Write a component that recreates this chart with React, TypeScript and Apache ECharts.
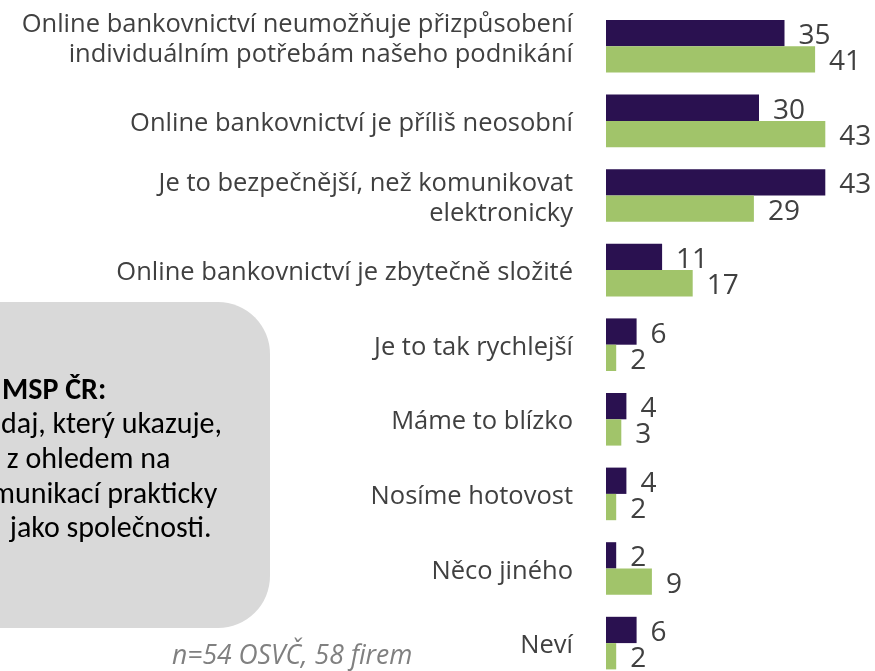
import React, { useEffect, useRef } from "react";
import * as echarts from "echarts";

const categories = [
  "Online bankovnictví neumožňuje přizpůsobení\nindividuálním potřebám našeho podnikání",
  "Online bankovnictví je příliš neosobní",
  "Je to bezpečnější, než komunikovat\nelektronicky",
  "Online bankovnictví je zbytečně složité",
  "Je to tak rychlejší",
  "Máme to blízko",
  "Nosíme hotovost",
  "Něco jiného",
  "Neví",
];
const osvcValues = [35, 30, 43, 11, 6, 4, 4, 2, 6];
const firmyValues = [41, 43, 29, 17, 2, 3, 2, 9, 2];
const boxLines = [
  "MSP ČR:",
  "daj, který ukazuje,",
  " z ohledem na",
  "munikací prakticky",
  " jako společnosti.",
];
const footnote = "n=54 OSVČ, 58 firem";

export default function App() {
  const ref = useRef<HTMLDivElement>(null);
  useEffect(() => {
    if (!ref.current) return;
    const chart = echarts.init(ref.current, undefined, { renderer: "svg" });
    const labelStyle = {
      show: true,
      position: "right" as const,
      distance: 14,
      fontSize: 28,
      fontFamily: "Open Sans",
      color: "#404040",
    };
    const boxX = [2, 1, 0, -9, 3];
    const boxY = [388, 422, 457, 492, 526];
    chart.setOption({
      animation: false,
      grid: { left: 606, top: 9, width: 255, height: 671.4, containLabel: false },
      xAxis: {
        type: "value",
        min: 0,
        max: 50,
        show: false,
      },
      yAxis: {
        type: "category",
        data: categories,
        inverse: true,
        axisLine: { show: false },
        axisTick: { show: false },
        splitLine: { show: false },
        axisLabel: {
          margin: 33,
          fontSize: 25.5,
          lineHeight: 30,
          fontFamily: "Open Sans",
          color: "#404040",
          align: "right",
          formatter: (v: string, i: number) =>
            i === 0
              ? v
                  .split("\n")
                  .map((l) => `{a|${l}}`)
                  .join("\n") + "\n{s| }"
              : v,
          rich: {
            a: {
              fontSize: 25.5,
              lineHeight: 30,
              fontFamily: "Open Sans",
              color: "#404040",
              align: "right",
            },
            s: { fontSize: 10, lineHeight: 18 },
          },
        },
      },
      series: [
        {
          name: "OSVČ",
          type: "bar",
          data: osvcValues,
          barGap: "0%",
          barCategoryGap: "29.5%",
          itemStyle: { color: "#2a1150" },
          label: labelStyle,
        },
        {
          name: "Firmy",
          type: "bar",
          data: firmyValues,
          barGap: "0%",
          barCategoryGap: "29.5%",
          itemStyle: { color: "#a1c46a" },
          label: labelStyle,
        },
      ],
      graphic: [
        {
          type: "rect",
          z: -1,
          shape: { x: -80, y: 302, width: 350, height: 326, r: 52 },
          style: { fill: "#d9d9d9" },
        },
        ...boxLines.map((t, i) => ({
          type: "text",
          x: boxX[i],
          y: boxY[i],
          style: {
            text: t,
            fontSize: 30,
            fontWeight: i === 0 ? "bold" : "normal",
            fontFamily: "Carlito, Lato, sans-serif",
            fill: "#000000",
            textAlign: "left",
            textVerticalAlign: "middle",
          },
        })),
        {
          type: "text",
          x: 172,
          y: 654,
          style: {
            text: footnote,
            fontSize: 26.5,
            fontStyle: "italic",
            fontFamily: "Open Sans",
            fill: "#808080",
            textAlign: "left",
            textVerticalAlign: "middle",
          },
        },
      ],
    });
    return () => chart.dispose();
  }, []);
  return (
    <div
      ref={ref}
      style={{ position: "fixed", left: 0, top: 0, width: 875, height: 720 }}
    />
  );
}
